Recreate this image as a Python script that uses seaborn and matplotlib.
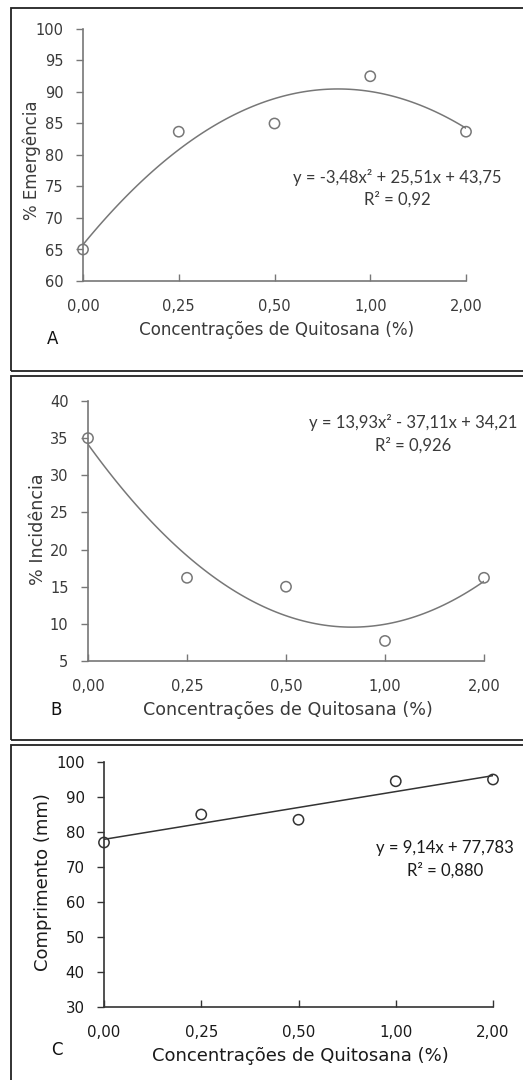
import numpy as np
import pandas as pd
import matplotlib
matplotlib.use("Agg")
import matplotlib.pyplot as plt
from matplotlib.patches import Rectangle
import seaborn as sns

# Chitosan concentrations (categorical axis) and measured responses
concentrations = ["0,00", "0,25", "0,50", "1,00", "2,00"]
emergencia = [65.0, 83.7, 85.0, 92.5, 83.7]
incidencia = [35.0, 16.2, 15.0, 7.7, 16.2]
comprimento = [77.0, 85.0, 83.5, 94.5, 95.0]

eq_a = ["y = -3,48x² + 25,51x + 43,75", "R² = 0,92"]
eq_b = ["y = 13,93x² - 37,11x + 34,21", "R² = 0,926"]
eq_c = ["y = 9,14x + 77,783", "R² = 0,880"]

sns.set_theme(style="ticks")
plt.rcParams["font.family"] = ["DejaVu Sans"]

W, H = 523, 1080
fig = plt.figure(figsize=(W / 100, H / 100), dpi=100)


def fx(px):
    return px / W


def fy(py):
    return 1 - py / H


def box(top, bottom):
    fig.patches.append(Rectangle((fx(11), fy(bottom)), fx(530) - fx(11), fy(top) - fy(bottom),
                                 transform=fig.transFigure, fill=False, ec="#222222", lw=1.3))


def panel(rect_px, values, order, ylim, yticks, ylabel, ylab_pos, eq, eq_pos, letter,
          letter_pos, axis_color, text_color, line_color, xlab_y, tick_fs, xlab_fs,
          ylab_fs, eq_font):
    l, r, t, b = rect_px
    ax = fig.add_axes([fx(l), fy(b), fx(r) - fx(l), fy(t) - fy(b)])
    df = pd.DataFrame({"pos": np.arange(len(values), dtype=float), "val": values})
    sns.regplot(data=df, x="pos", y="val", order=order, ci=None, scatter=False, ax=ax,
                line_kws={"color": line_color, "lw": 1.1})
    sns.scatterplot(data=df, x="pos", y="val", ax=ax, marker="o", s=55,
                    facecolor="none", edgecolor=line_color, linewidth=1.1,
                    clip_on=False, zorder=5)
    ax.set_xlim(0, len(values) - 1)
    ax.set_ylim(*ylim)
    ax.set_yticks(yticks)
    ax.set_xticks(df["pos"])
    ax.set_xticklabels(concentrations)
    ax.set_xlabel("")
    ax.set_ylabel("")
    sns.despine(ax=ax)
    for s in ("left", "bottom"):
        ax.spines[s].set_color(axis_color)
        ax.spines[s].set_linewidth(1.2)
    ax.tick_params(axis="y", direction="out", length=5, width=1, color=axis_color,
                   labelsize=tick_fs, labelcolor=text_color, pad=9)
    ax.tick_params(axis="x", direction="in", length=5, width=1, color=axis_color,
                   labelsize=tick_fs, labelcolor=text_color, pad=13)
    ax.patch.set_alpha(0)
    fig.text(fx(ylab_pos[0]), fy(ylab_pos[1]), ylabel, rotation=90, ha="center",
             va="center", fontsize=ylab_fs, color=text_color)
    fig.text(fx((l + r) / 2 + 2), fy(xlab_y), "Concentrações de Quitosana (%)",
             ha="center", va="center", fontsize=xlab_fs, color=text_color)
    fig.text(fx(letter_pos[0]), fy(letter_pos[1]), letter, ha="center", va="center",
             fontsize=12, color="#111111")
    fig.text(fx(eq_pos[0]), fy(eq_pos[1]), eq[0], ha="center", va="center",
             fontsize=eq_font, color=text_color, family=["Lato", "DejaVu Sans"])
    fig.text(fx(eq_pos[0]), fy(eq_pos[1] + 22), eq[1], ha="center", va="center",
             fontsize=eq_font, color=text_color, family=["Lato", "DejaVu Sans"])
    return ax


box(8, 371)
box(376, 740)
box(745, 1090)

panel((83, 466, 29, 281), emergencia, 2, (60, 100), range(60, 101, 5), "% Emergência",
      (32, 160), eq_a, (397, 177), "A", (53, 339), "#777777", "#3a3a3a", "#777777", 330,
      10.5, 12.1, 12, 12)
panel((88, 484, 401, 661), incidencia, 2, (5, 40), range(5, 41, 5), "% Incidência",
      (38, 529), eq_b, (413, 423), "B", (56, 710), "#777777", "#3a3a3a", "#777777", 710,
      10.5, 12.6, 12.6, 12)
panel((104, 493, 762, 1007), comprimento, 1, (30, 100), range(30, 101, 10),
      "Comprimento (mm)", (43, 882), eq_c, (445, 848), "C", (57, 1050),
      "#333333", "#1a1a1a", "#333333", 1056, 10.8, 13, 13, 12)

fig.savefig("out.png", dpi=100)
